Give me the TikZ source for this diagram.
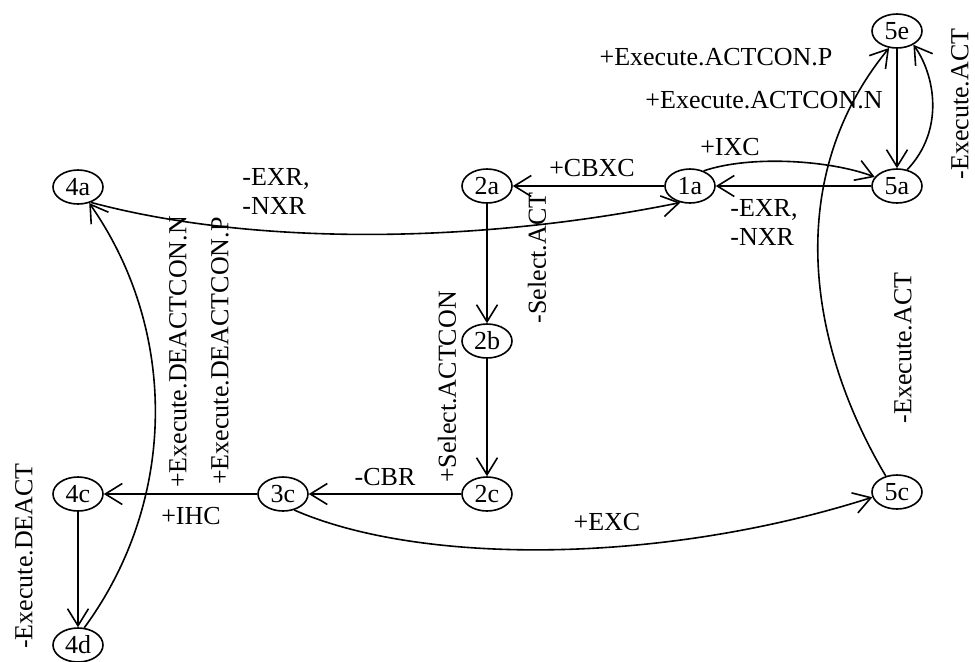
\documentclass[tikz,border=0pt]{standalone}
\usepackage{fontspec}
\setmainfont{Liberation Serif}
\usepackage{tikz}
\usetikzlibrary{shapes.geometric, arrows.meta}

\begin{document}
\begin{tikzpicture}[x=0.5pt, y=-0.5pt,
  state/.style={ellipse, draw, line width=0.8pt, minimum width=25pt, minimum height=17pt, inner sep=0pt, font=\fontsize{13}{14}\selectfont},
  edge/.style={line width=0.8pt, -{Straight Barb[length=8.5pt, width=10.5pt, line width=0.8pt]}},
  lbl/.style={font=\fontsize{13}{14.5}\selectfont, inner sep=0pt},
  vlbl/.style={lbl, rotate=90}]
\useasboundingbox (0,0) rectangle (975,661);
\node[state] (n5e) at (897,31) {5e};
\node[state] (n4a) at (78,187) {4a};
\node[state] (n2a) at (487,186) {2a};
\node[state] (n1a) at (690,186) {1a};
\node[state] (n5a) at (897,186) {5a};
\node[state] (n2b) at (487,341) {2b};
\node[state] (n4c) at (78,494) {4c};
\node[state] (n3c) at (283,494) {3c};
\node[state] (n2c) at (487,494) {2c};
\node[state] (n5c) at (897,492) {5c};
\node[state] (n4d) at (78,645) {4d};
\draw[edge] (n4a.-50) .. controls (250,245) and (470,245) .. (n1a.-120);
\draw[edge] (n1a) -- (n2a);
\draw[edge] (n2a) -- (n2b);
\draw[edge] (n2b) -- (n2c);
\draw[edge] (n2c) -- (n3c);
\draw[edge] (n3c) -- (n4c);
\draw[edge] (n4c) -- (n4d);
\draw[edge] (n4d.70) .. controls (178,500) and (178,330) .. (n4a.-55);
\draw[edge] (n3c.-55) .. controls (420,565) and (660,565) .. (n5c.-168);
\draw[edge] (n5c.125) .. controls (805,340) and (785,175) .. (n5e.-115);
\draw[edge] (n1a.48) .. controls (750,155) and (830,160) .. (n5a.158);
\draw[edge] (n5a) -- (n1a);
\draw[edge] (n5e) -- (n5a);
\draw[edge] (n5a.58) .. controls (945,130) and (935,75) .. (n5e.-40);
\node[lbl, align=left, anchor=west] (exrl) at (242,191) {-EXR,\\-NXR};
\node[lbl] (cbxc) at (592,168) {+CBXC};
\node[lbl] (ixc) at (730,147) {+IXC};
\node[lbl, align=left, anchor=west] (exrr) at (730,222) {-EXR,\\-NXR};
\node[lbl] (actconp) at (716,57) {+Execute.ACTCON.P};
\node[lbl] (actconn) at (764,100) {+Execute.ACTCON.N};
\node[vlbl] (exacta) at (960,104) {-Execute.ACT};
\node[vlbl] (exactb) at (903,348) {-Execute.ACT};
\node[vlbl] (selact) at (537,258) {-Select.ACT};
\node[vlbl] (selactcon) at (447,387) {+Select.ACTCON};
\node[vlbl] (deactconn) at (178,352) {+Execute.DEACTCON.N};
\node[vlbl] (deactconp) at (220,351) {+Execute.DEACTCON.P};
\node[lbl] (cbr) at (385,477) {-CBR};
\node[lbl] (ihc) at (191,516) {+IHC};
\node[lbl] (exc) at (607,522) {+EXC};
\node[vlbl] (deact) at (24,556) {-Execute.DEACT};
\end{tikzpicture}
\end{document}
